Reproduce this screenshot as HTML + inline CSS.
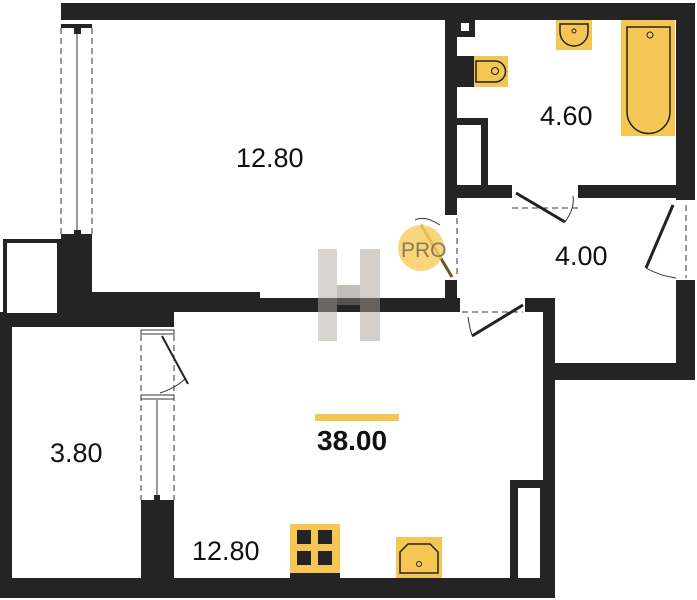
<!DOCTYPE html>
<html><head><meta charset="utf-8"><style>
html,body{margin:0;padding:0;background:#fff;width:697px;height:600px;overflow:hidden}
text{font-family:"Liberation Sans","DejaVu Sans",sans-serif;fill:#111}
</style></head><body>
<svg width="697" height="600" viewBox="0 0 697 600" xmlns="http://www.w3.org/2000/svg">
<g fill="#242424">
<rect x="61" y="3" width="634" height="17"/>
<rect x="676" y="3" width="19" height="197"/>
<rect x="445" y="20" width="12" height="195"/>
<rect x="445" y="280" width="12" height="32"/>
<rect x="457" y="185" width="55" height="13"/>
<rect x="578" y="185" width="117" height="13"/>
<rect x="676" y="280" width="19" height="100"/>
<rect x="555" y="363" width="140" height="17"/>
<rect x="543" y="300" width="12" height="298"/>
<rect x="61" y="237" width="31" height="90"/>
<rect x="92" y="292" width="168" height="20"/>
<rect x="260" y="298" width="200" height="14"/>
<rect x="525" y="298" width="30" height="14"/>
<rect x="0" y="312" width="174" height="15"/>
<rect x="0" y="312" width="12" height="286"/>
<rect x="0" y="578" width="555" height="20"/>
<rect x="0" y="590" width="174" height="8"/>
<rect x="141" y="503" width="33" height="95"/>
<rect x="510" y="480" width="33" height="98"/>
</g>
<rect x="518" y="488" width="22" height="90" fill="#fff"/>
<rect x="3" y="239" width="58" height="79" fill="#242424"/>
<rect x="7" y="243" width="50" height="70" fill="#fff"/>
<rect x="457" y="20" width="18" height="17" fill="#242424"/>
<rect x="461" y="23" width="8" height="8" fill="#fff"/>
<rect x="457" y="118" width="31" height="7" fill="#242424"/>
<rect x="481" y="118" width="7" height="67" fill="#242424"/>
<g stroke="#333" fill="none">
<line x1="61" y1="28" x2="61" y2="236" stroke-dasharray="6,4"/>
<line x1="92" y1="28" x2="92" y2="236" stroke-dasharray="6,4"/>
<line x1="77" y1="30" x2="77" y2="234"/>
<line x1="141" y1="335" x2="141" y2="500" stroke-dasharray="6,4"/>
<line x1="174" y1="335" x2="174" y2="500" stroke-dasharray="6,4"/>
<line x1="157" y1="400" x2="157" y2="498"/>
<line x1="512" y1="208" x2="578" y2="208" stroke-dasharray="6,4"/>
<line x1="457" y1="218" x2="457" y2="278" stroke-dasharray="6,4"/>
<line x1="462" y1="312" x2="523" y2="312" stroke-dasharray="6,4"/>
<line x1="686" y1="205" x2="686" y2="278" stroke-dasharray="6,4"/>
<path d="M565 222 Q575 208 573 196"/>
<path d="M440 225 Q425 215 415 220"/>
<path d="M468 317 Q470 330 472 335"/>
<path d="M646 268 Q660 276 676 278"/>
<path d="M186 378 Q176 388 160 393"/>
</g>
<rect x="61" y="24" width="31" height="4" fill="#242424"/>
<rect x="74" y="28" width="7" height="6" fill="#242424"/>
<rect x="61" y="234" width="31" height="4" fill="#242424"/>
<rect x="74" y="230" width="7" height="5" fill="#242424"/>
<rect x="141" y="330" width="33" height="4" fill="#fff" stroke="#333"/>
<rect x="141" y="395" width="33" height="4" fill="#fff" stroke="#333"/>
<rect x="141" y="500" width="33" height="4" fill="#242424"/>
<rect x="154" y="495" width="6" height="6" fill="#242424"/>
<g stroke="#222" stroke-width="3">
<line x1="516" y1="193" x2="565" y2="222"/>
<line x1="673" y1="205" x2="646" y2="268"/>
<line x1="472" y1="336" x2="523" y2="305"/>
<line x1="162" y1="336" x2="188" y2="384" stroke-width="2"/>
</g>
<line x1="421" y1="225" x2="452" y2="277" stroke="#6b5520" stroke-width="3"/>
<circle cx="421" cy="248" r="23" fill="#f8cf62" opacity="0.85"/>
<text x="401" y="257" font-size="21" style="fill:#8a7a55">PRO</text>
<g opacity="0.5">
<rect x="318" y="249" width="19" height="92" fill="#b3aaa0"/>
<rect x="360" y="249" width="20" height="92" fill="#a99f94"/>
<rect x="337" y="285" width="23" height="20" fill="#8a7f74"/>
</g>
<rect x="457" y="56" width="17" height="31" fill="#242424"/>
<rect x="474" y="56" width="34" height="31" fill="#f6c655"/>
<path d="M476 61 H495 A10 10 0 0 1 495 82 H476 Z" fill="none" stroke="#222" stroke-width="1.5"/>
<circle cx="495" cy="71" r="3.5" fill="none" stroke="#222"/>
<rect x="556" y="20" width="36" height="30" fill="#f6c655"/>
<path d="M560 24 H588 V32 A14 14 0 0 1 560 32 Z" fill="none" stroke="#222" stroke-width="1.5"/>
<circle cx="574" cy="31" r="2" fill="none" stroke="#222"/>
<rect x="621" y="20" width="54" height="116" fill="#f6c655"/>
<path d="M627 27 H670 V112 A21 21 0 0 1 627 112 Z" fill="none" stroke="#222" stroke-width="1.5"/>
<circle cx="650" cy="35" r="3" fill="none" stroke="#222"/>
<rect x="290" y="524" width="50" height="54" fill="#f6c655"/>
<rect x="290" y="573" width="50" height="5" fill="#242424"/>
<g fill="#242424"><rect x="297" y="530" width="14" height="14"/><rect x="318" y="530" width="14" height="14"/><rect x="297" y="551" width="14" height="14"/><rect x="318" y="551" width="14" height="14"/></g>
<rect x="396" y="537" width="46" height="41" fill="#f6c655"/>
<path d="M400 573 V552 L408 544 H430 L438 552 V573 Z" fill="none" stroke="#222" stroke-width="1.5"/>
<circle cx="419" cy="564" r="2.5" fill="none" stroke="#222"/>
<text x="236" y="167" font-size="27">12.80</text>
<text x="540" y="125" font-size="27">4.60</text>
<text x="555" y="265" font-size="27">4.00</text>
<text x="50" y="462" font-size="27">3.80</text>
<text x="192" y="560" font-size="27">12.80</text>
<rect x="315" y="414" width="84" height="7" fill="#f6c655"/>
<text x="317" y="450" font-size="28" font-weight="bold">38.00</text>
</svg>
</body></html>
